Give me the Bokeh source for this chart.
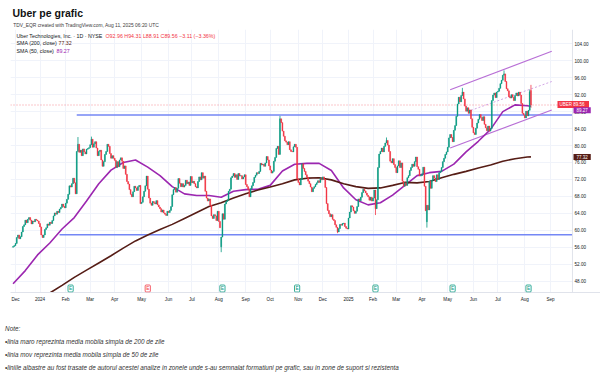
import numpy as np
import pandas as pd
from bokeh.plotting import figure
from bokeh.models import (Range1d, FixedTicker, NumeralTickFormatter, Label, Span,
                          ColumnDataSource, Title, BoxAnnotation)
from bokeh.embed import file_html
from bokeh.resources import INLINE

FONT = "Liberation Sans"
UP = "#089981"
DOWN = "#f23645"
SMA50_COLOR = "#9c27b0"
SMA200_COLOR = "#561d16"
LEVEL_COLOR = "#7487f5"
CHANNEL_COLOR = "#b86fd6"

# ---------------- data ----------------
NYSE_HOLIDAYS = ["2023-12-25", "2024-01-01", "2024-01-15", "2024-02-19", "2024-03-29",
                 "2024-05-27", "2024-06-19", "2024-07-04", "2024-09-02", "2024-11-28",
                 "2024-12-25", "2025-01-01", "2025-01-09", "2025-01-20", "2025-02-17",
                 "2025-04-18", "2025-05-26", "2025-06-19", "2025-07-04", "2025-09-01"]
FIRST_DAY = "2023-11-29"
FIRST_OPEN = 56.0

NOV23 = [56.2, 56.4]
DEC23 = [56.9, 58.3, 58.9, 58.0, 58.5, 59.6, 60.9, 61.3, 62.4, 61.8, 62.6, 63.0, 62.4, 61.5,
         62.2, 62.0, 62.6, 62.4, 62.2, 61.6]
JAN24 = [60.8, 58.9, 58.3, 58.9, 60.2, 60.6, 61.5, 61.2, 61.9, 61.6, 62.3, 63.4, 64.1, 63.8,
         64.5, 64.2, 65.0, 65.4, 66.2, 65.6, 65.3]
FEB24 = [66.4, 67.3, 68.5, 70.5, 70.2, 71.0, 72.3, 71.2, 68.6, 78.6, 80.3, 78.4, 78.9, 77.6,
         79.2, 78.5, 78.0, 79.1, 79.3, 79.5]
MAR24 = [80.2, 81.5, 79.6, 80.4, 80.9, 79.4, 77.6, 78.6, 78.9, 76.6, 75.1, 76.2, 77.9, 78.6,
         80.3, 79.8, 78.1, 77.0, 77.6, 77.0]
APR24 = [76.5, 74.8, 76.2, 75.0, 76.6, 77.1, 76.3, 74.6, 75.2, 73.2, 71.5, 70.9, 69.6, 68.5,
         67.9, 69.1, 70.4, 70.0, 69.4, 70.3, 70.6, 66.3]
MAY24 = [66.6, 67.9, 69.2, 70.5, 72.8, 69.7, 67.6, 66.4, 65.9, 66.8, 66.5, 66.2, 67.0, 66.0,
         65.5, 65.1, 64.3, 64.8, 64.1, 63.8, 63.5, 64.5]
JUN24 = [64.2, 64.7, 65.6, 68.4, 69.6, 70.1, 69.0, 69.9, 72.2, 71.1, 70.3, 71.0, 70.2, 70.6,
         71.8, 71.0, 71.4, 70.6, 72.7]
JUL24 = [71.2, 71.6, 71.0, 70.3, 70.0, 71.5, 72.6, 71.9, 73.6, 72.3, 72.8, 69.2, 67.6, 66.9,
         67.4, 65.9, 63.4, 62.8, 63.7, 63.4, 62.3, 64.5]
AUG24 = [62.1, 60.6, 58.4, 63.9, 62.6, 66.2, 66.8, 67.1, 69.2, 69.7, 72.4, 72.8, 73.4, 72.5,
         73.1, 72.0, 73.4, 72.8, 72.9, 72.1, 72.6, 73.1]
SEP24 = [70.8, 70.3, 69.6, 67.9, 69.8, 70.5, 71.3, 72.5, 73.0, 73.6, 73.4, 73.9, 75.8, 75.4,
         75.6, 75.1, 75.9, 77.4, 76.6, 75.2]
OCT24 = [74.2, 73.5, 73.9, 76.3, 77.2, 79.3, 79.8, 77.9, 86.3, 85.4, 83.4, 82.2, 81.1, 80.8,
         80.2, 80.9, 79.0, 78.6, 78.5, 79.7, 80.3, 79.6, 72.1]
NOV24 = [71.3, 70.7, 72.0, 75.7, 74.6, 73.9, 73.1, 72.5, 71.6, 71.0, 70.2, 69.1, 69.9, 70.3,
         70.8, 71.2, 71.7, 71.3, 72.2, 71.9]
DEC24 = [72.6, 72.0, 70.1, 66.3, 64.7, 63.9, 63.2, 63.7, 62.6, 62.3, 61.3, 60.7, 59.6, 60.4,
         61.4, 61.2, 61.6, 61.7, 60.9, 60.5, 60.3]
JAN25 = [62.9, 64.3, 65.8, 65.5, 64.6, 64.0, 64.5, 65.6, 67.4, 67.0, 67.8, 68.9, 69.7, 69.3,
         68.8, 68.3, 67.9, 67.1, 67.8, 66.9]
FEB25 = [67.6, 69.5, 65.1, 67.2, 74.8, 78.0, 78.6, 79.4, 78.5, 79.8, 80.6, 81.2, 80.1, 78.6,
         76.3, 75.9, 76.9, 75.5, 74.8]
MAR25 = [73.6, 75.2, 76.4, 74.8, 75.9, 71.6, 70.4, 71.2, 70.6, 72.4, 72.9, 74.1, 74.8, 75.6,
         75.1, 76.2, 77.3, 75.0, 74.4, 72.8, 72.9]
APR25 = [73.3, 74.9, 70.4, 64.6, 65.9, 64.8, 71.6, 69.9, 71.8, 72.9, 72.3, 71.5, 73.1, 72.0,
         73.6, 73.9, 74.8, 76.2, 77.0, 77.9, 78.5]
MAY25 = [79.6, 81.8, 82.6, 81.9, 80.9, 83.6, 84.7, 86.9, 89.8, 91.4, 90.3, 91.8, 92.6, 91.0,
         89.3, 88.1, 88.9, 87.6, 88.4, 86.3, 84.3]
JUN25 = [83.0, 82.6, 84.1, 85.3, 86.2, 87.3, 86.6, 85.9, 86.8, 85.0, 84.2, 83.5, 84.6, 83.4,
         84.0, 90.6, 91.9, 92.4, 91.3, 92.6]
JUL25 = [92.8, 93.5, 94.6, 95.4, 96.6, 96.9, 95.1, 93.4, 92.9, 91.5, 91.2, 92.0, 91.4, 90.6,
         91.8, 92.4, 91.7, 92.6, 91.9, 89.9, 87.6, 87.2]
AUG25 = [86.5, 88.1, 87.0, 88.3, 92.67, 89.56]

OPEN_OVERRIDES = {"2024-08-05": 56.1, "2025-04-07": 62.0, "2025-08-08": 92.96}
HIGH_OVERRIDES = {"2024-02-15": 82.0, "2024-03-04": 82.1, "2024-10-11": 87.0,
                  "2025-02-19": 81.9, "2025-05-19": 93.6, "2025-07-09": 97.71,
                  "2025-08-07": 93.2, "2025-08-08": 94.31}
LOW_OVERRIDES = {"2024-08-05": 54.84, "2024-12-18": 59.33, "2025-02-05": 63.6,
                 "2025-04-07": 60.63, "2025-08-08": 88.91}

# moving averages, one value every 10 sessions
SMA50_STEP = 10
SMA50 = [47.4, 50.5, 54.2, 57.0, 60.3, 63.0, 66.9, 71.0, 74.2, 76.0, 76.6, 74.9, 72.9, 70.3,
         68.6, 68.2, 68.2, 67.8, 69.2, 69.6, 69.7, 70.6, 74.0, 75.6, 75.8, 75.8, 74.1, 70.0,
         67.2, 66.0, 66.5, 68.3, 70.6, 72.9, 73.6, 73.9, 75.6, 78.5, 81.0, 83.8, 88.0, 89.6,
         89.4]
SMA50_LAST = 89.27
SMA200_FIRST_SESSION = 30
SMA200 = [45.2, 47.0, 48.9, 50.6, 52.3, 54.0, 55.8, 57.5, 58.9, 60.2, 61.4, 62.8, 64.2, 65.6,
          66.5, 67.6, 68.6, 69.5, 70.2, 71.0, 71.9, 72.3, 72.4, 71.9, 71.0, 70.3, 69.9, 70.0,
          70.6, 71.3, 71.2, 71.5, 72.4, 73.2, 73.9, 74.7, 75.4, 76.3, 76.9, 77.3]
SMA200_LAST = 77.32

# drawings
LEVEL_PRICES = [87.2, 58.95]
LEVEL_STARTS = ["2024-02-14", "2024-01-25"]
CHANNEL_DATES = ["2025-05-05", "2025-09-03"]
CHANNEL_UPPER = [93.15, 102.25]
CHANNEL_LOWER = [79.4, 88.4]
CHANNEL_MID_DATES = ["2025-05-29", "2025-09-03"]
CHANNEL_MID = [88.3, 95.1]

EARNINGS_DATES = ["2024-02-07", "2024-05-08", "2024-08-06", "2024-10-31", "2025-02-05",
                  "2025-05-07", "2025-08-06"]
EARNINGS_POSITIVE = [True, False, True, True, True, True, True]

PRICE_TICKS = [48, 52, 56, 60, 64, 68, 72, 76, 80, 84, 88, 92, 96, 100, 104]
Y_MIN, Y_MAX = 45.33, 107.37
# view in session units: left edge, end of the price pane, right edge (incl. price scale)
VIEW_START, PANE_END, VIEW_END = -2.1, 456.9, 479.8

TITLE = "Uber pe grafic"
SUBTITLE = "TDV_EQR created with TradingView.com, Aug 11, 2025 06:20 UTC"
LEGEND_NAME = "Uber Technologies, Inc. · 1D · NYSE"
LEGEND_OHLC = "O92.96  H94.31  L88.91  C89.56  −3.11 (−3.36%)"
NOTES = ["Note:",
         "•linia maro reprezinta media mobila simpla de 200 de zile",
         "•linia mov reprezinta media mobila simpla de 50 de zile",
         "•liniile albastre au fost trasate de autorul acestei analize in zonele unde s-au "
         "semnalat formatiuni pe grafic, sau in zone de suport si rezistenta"]

# ---------------- build series ----------------
closes = (NOV23 + DEC23 + JAN24 + FEB24 + MAR24 + APR24 + MAY24 + JUN24 + JUL24 + AUG24 +
          SEP24 + OCT24 + NOV24 + DEC24 + JAN25 + FEB25 + MAR25 + APR25 + MAY25 + JUN25 +
          JUL25 + AUG25)
cal = pd.bdate_range(FIRST_DAY, "2025-10-31", freq="C", holidays=NYSE_HOLIDAYS)
day_str = [d.strftime("%Y-%m-%d") for d in cal]
pos = {d: i for i, d in enumerate(day_str)}
n = len(closes)
opens = [FIRST_OPEN] + closes[:-1]
for d, v in OPEN_OVERRIDES.items():
    opens[pos[d]] = v
highs = [max(o, c) for o, c in zip(opens, closes)]
lows = [min(o, c) for o, c in zip(opens, closes)]
for d, v in HIGH_OVERRIDES.items():
    highs[pos[d]] = v
for d, v in LOW_OVERRIDES.items():
    lows[pos[d]] = v
colors = [UP if c >= o else DOWN for o, c in zip(opens, closes)]
src = ColumnDataSource(dict(x=list(range(n)), top=[max(o, c) for o, c in zip(opens, closes)],
                            bottom=[min(o, c) for o, c in zip(opens, closes)],
                            high=highs, low=lows, color=colors))

# month ticks
month_ticks, month_labels = [], {}
seen = set()
for i, d in enumerate(cal):
    key = (d.year, d.month)
    if key in seen or d > pd.Timestamp("2025-09-30"):
        continue
    seen.add(key)
    if d.day > 5:
        continue
    month_ticks.append(i)
    month_labels[i] = str(d.year) if d.month == 1 else d.strftime("%b")

# ---------------- figure ----------------
p = figure(width=600, height=377, output_backend="svg", toolbar_location=None,
           x_range=Range1d(VIEW_START, VIEW_END), y_range=Range1d(Y_MIN, Y_MAX),
           y_axis_location="right", min_border_left=10, min_border_right=0,
           min_border_top=29, min_border_bottom=85)
p.outline_line_color = None
p.background_fill_color = "white"
p.border_fill_color = "white"

p.xaxis.ticker = FixedTicker(ticks=month_ticks)
p.xaxis.major_label_overrides = month_labels
p.yaxis.ticker = FixedTicker(ticks=PRICE_TICKS)
p.yaxis.formatter = NumeralTickFormatter(format="0.00")
for ax in (p.xaxis, p.yaxis):
    ax.major_label_text_font = FONT
    ax.major_label_text_font_size = "4.6px"
    ax.major_label_text_color = "#131722"
    ax.major_tick_out = 0
    ax.major_tick_in = 0
    ax.minor_tick_out = 0
    ax.minor_tick_in = 0
p.xaxis.axis_line_color = "#e0e3eb"
p.xaxis.major_label_standoff = 4
p.yaxis.axis_line_color = None
p.yaxis.major_label_standoff = -26   # price labels sit inside the scale strip
p.xgrid.ticker = FixedTicker(ticks=month_ticks)
p.xgrid.grid_line_color = "#f0f3fa"
p.ygrid.grid_line_color = "#f0f3fa"

# price-scale strip (no grid there) and its border
p.add_layout(BoxAnnotation(left=PANE_END, fill_color="white", fill_alpha=1.0,
                           line_color=None, level="underlay"))
p.add_layout(Span(location=PANE_END, dimension="height", line_color="#e0e3eb", line_width=1))

# horizontal levels
for price, start in zip(LEVEL_PRICES, LEVEL_STARTS):
    p.line([pos[start], PANE_END], [price, price], line_color=LEVEL_COLOR, line_width=1.5)

# last price line
p.line([VIEW_START, PANE_END], [closes[-1], closes[-1]], line_color=DOWN, line_alpha=0.55,
       line_dash="1 2", line_width=1)

# channel
cx = [pos[d] for d in CHANNEL_DATES]
p.line(cx, CHANNEL_UPPER, line_color=CHANNEL_COLOR, line_width=1.1)
p.line(cx, CHANNEL_LOWER, line_color=CHANNEL_COLOR, line_width=1.1)
p.line([pos[d] for d in CHANNEL_MID_DATES], CHANNEL_MID, line_color=CHANNEL_COLOR,
       line_width=0.9, line_alpha=0.7, line_dash="2 2")

# moving averages
sma50_x = [i * SMA50_STEP for i in range(len(SMA50))] + [n - 1]
p.line(sma50_x, SMA50 + [SMA50_LAST], line_color=SMA50_COLOR, line_width=1.6)
sma200_x = [SMA200_FIRST_SESSION + i * 10 for i in range(len(SMA200))] + [n - 1]
p.line(sma200_x, SMA200 + [SMA200_LAST], line_color=SMA200_COLOR, line_width=1.6)

# candles
p.segment(x0="x", y0="low", x1="x", y1="high", line_color="color", line_width=0.8, source=src)
p.vbar(x="x", width=0.75, top="top", bottom="bottom", fill_color="color", line_color="color",
       line_width=0.4, source=src)


def txt(s, x, y, size, color="#131722", style="normal", xu="screen", yu="screen", **kw):
    lab = Label(x=x, y=y, x_units=xu, y_units=yu, text=s, text_font=FONT, text_font_size=size,
                text_color=color, text_font_style=style, text_baseline="middle", **kw)
    p.add_layout(lab)
    return lab


# pane legend (frame-relative screen units, y upwards)
txt(LEGEND_NAME, 6, 257, "5.3px", color="#131722")
txt(LEGEND_OHLC, 95, 257, "5.3px", color=DOWN)
txt("SMA (200, close)", 6, 249.3, "5.3px", color="#131722")
txt(f"{SMA200_LAST:.2f}", 48, 249.3, "5.3px", color=SMA200_COLOR)
txt("SMA (50, close)", 6, 242, "5.3px", color="#131722")
txt(f"{SMA50_LAST:.2f}", 46, 242, "5.3px", color=SMA50_COLOR)

# price tags on the scale
txt(f"UBER   {closes[-1]:.2f}", 547, closes[-1], "4.5px", color="white", yu="data",
    background_fill_color=DOWN, padding=dict(x=2, y=1), y_offset=0.5)
txt(f"{SMA50_LAST:.2f}", 563, SMA50_LAST, "4.5px", color="white", yu="data",
    background_fill_color=SMA50_COLOR, padding=dict(x=3, y=1), y_offset=-4)
txt(f"{SMA200_LAST:.2f}", 563, SMA200_LAST, "4.5px", color="white", yu="data",
    background_fill_color=SMA200_COLOR, padding=dict(x=3, y=1))

# earnings markers
for d, good in zip(EARNINGS_DATES, EARNINGS_POSITIVE):
    col = UP if good else DOWN
    txt("E", pos[d], 4, "4.8px", color=col, xu="data", text_align="center",
        background_fill_color="white", border_line_color=col, border_line_width=0.8,
        padding=dict(x=1, y=1), border_radius=1)

# titles above the chart (first added sits next to the frame)
p.add_layout(Title(text=SUBTITLE, align="left", offset=2.7, standoff=2, vertical_align="middle",
                   text_font=FONT, text_font_size="4.9px", text_font_style="normal",
                   text_color="#3c3c3c"), "above")
p.add_layout(Title(text=TITLE, align="left", offset=2, standoff=1, vertical_align="middle",
                   text_font=FONT, text_font_size="10.5px", text_font_style="bold",
                   text_color="#111111"), "above")

# notes below the chart
p.add_layout(Title(text=" ", align="left", standoff=9, vertical_align="middle",
                   text_font=FONT, text_font_size="5px"), "below")
for s in NOTES:
    p.add_layout(Title(text=s, align="left", offset=-5.4, standoff=4, vertical_align="middle",
                       text_font=FONT, text_font_size="6.3px", text_font_style="italic",
                       text_color="#333333"), "below")

open("out.html", "w").write(file_html(p, INLINE))
